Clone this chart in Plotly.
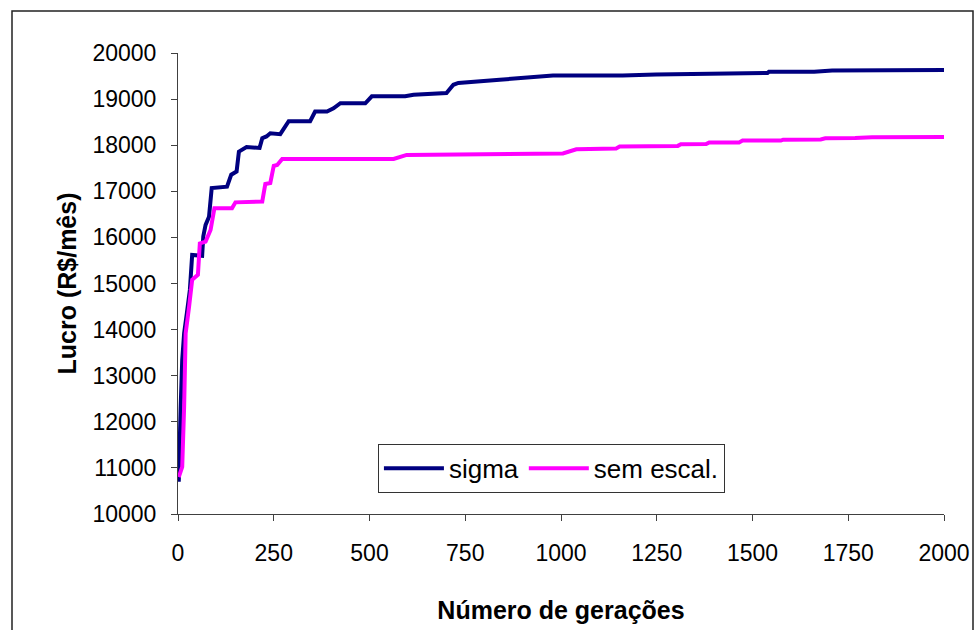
import plotly.graph_objects as go

# Data
sigma_gen = [2, 4, 7, 11, 16, 23, 31, 37, 63, 66, 72, 81, 88, 128, 139, 153, 159, 179, 213,
             220, 231, 241, 267, 289, 345, 358, 389, 406, 424, 489, 506, 593, 615, 701,
             719, 732, 771, 840, 979, 1161, 1248, 1395, 1539, 1543, 1661, 1708, 1812, 2000]
sigma_val = [10700, 11600, 12330, 13340, 13920, 14350, 14860, 15620, 15600, 16020, 16270,
             16450, 17070, 17100, 17360, 17430, 17860, 17960, 17940, 18150, 18190, 18260,
             18240, 18520, 18520, 18730, 18730, 18800, 18910, 18910, 19060, 19060, 19095,
             19130, 19310, 19350, 19380, 19420, 19510, 19510, 19535, 19560, 19565, 19595,
             19595, 19620, 19625, 19630]

sem_gen = [2, 11, 16, 20, 29, 37, 52, 57, 72, 85, 95, 141, 150, 220, 228, 241, 250, 259,
           272, 424, 563, 597, 736, 797, 1005, 1040, 1144, 1153, 1305, 1313, 1379, 1387,
           1465, 1474, 1574, 1580, 1678, 1690, 1768, 1812, 2000]
sem_val = [10800, 11020, 12330, 13920, 14500, 15080, 15190, 15870, 15910, 16160, 16630,
           16630, 16760, 16780, 17160, 17180, 17550, 17570, 17700, 17690, 17700, 17790,
           17790, 17805, 17820, 17910, 17930, 17970, 17985, 18020, 18025, 18060, 18060,
           18100, 18100, 18120, 18125, 18150, 18155, 18170, 18180]

x_ticks = [0, 250, 500, 750, 1000, 1250, 1500, 1750, 2000]
y_ticks = [10000, 11000, 12000, 13000, 14000, 15000, 16000, 17000, 18000, 19000, 20000]

FONT = "Liberation Sans, Arial, sans-serif"
AXC = "#404040"

fig = go.Figure()
fig.add_trace(go.Scatter(x=sigma_gen, y=sigma_val, mode="lines", name="sigma",
                         line=dict(color="#000080", width=4)))
fig.add_trace(go.Scatter(x=sem_gen, y=sem_val, mode="lines", name="sem escal.",
                         line=dict(color="#FF00FF", width=4)))

fig.update_layout(
    width=975, height=630,
    margin=dict(l=178, r=31, t=53, b=116, autoexpand=False),
    paper_bgcolor="white", plot_bgcolor="white",
    font=dict(family=FONT, size=23, color="black"),
    showlegend=True,
    legend=dict(orientation="h", x=0.261, y=0.152, xanchor="left", yanchor="top",
                bordercolor="#333333", borderwidth=1, bgcolor="white",
                font=dict(family=FONT, size=26, color="black"),
                itemwidth=60, tracegroupgap=0),
    xaxis=dict(range=[0, 2000], tickvals=x_ticks, tickformat="d", showgrid=False,
               zeroline=False, showline=True, linecolor=AXC, linewidth=1,
               ticks="outside", ticklen=6, tickcolor=AXC, ticklabelstandoff=12,
               title=dict(text="Número de gerações", standoff=36,
                          font=dict(family=FONT, size=25, weight="bold", color="black"))),
    yaxis=dict(range=[10000, 20000], tickvals=y_ticks, tickformat="d", showgrid=False,
               zeroline=False, showline=True, linecolor=AXC, linewidth=1,
               ticks="outside", ticklen=6, tickcolor=AXC, ticklabelstandoff=10,
               title=dict(text="Lucro (R$/mês)", standoff=8,
                          font=dict(family=FONT, size=25, weight="bold", color="black"))),
    shapes=[dict(type="rect", xref="paper", yref="paper",
                 x0=(12 - 178) / 766, x1=(973 - 178) / 766,
                 y0=(514 - 640) / 461, y1=1 + 42 / 461,
                 line=dict(color="#222222", width=1.5), fillcolor="rgba(0,0,0,0)",
                 layer="below")],
)

fig.write_html("out.html")
